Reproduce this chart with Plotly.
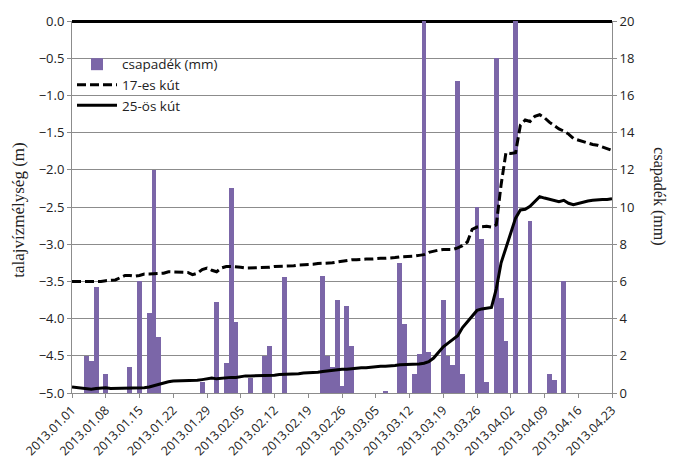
import plotly.graph_objects as go
import pandas as pd

# --- data ---
bar_dates = ["2013-01-04","2013-01-05","2013-01-06","2013-01-08","2013-01-13","2013-01-15","2013-01-17",
             "2013-01-18","2013-01-19","2013-01-28","2013-01-31","2013-02-02","2013-02-03","2013-02-04",
             "2013-02-07","2013-02-10","2013-02-11","2013-02-14","2013-02-22","2013-02-23","2013-02-24",
             "2013-02-25","2013-02-26","2013-02-27","2013-02-28","2013-03-07","2013-03-10","2013-03-11",
             "2013-03-13","2013-03-14","2013-03-15","2013-03-16","2013-03-19","2013-03-20","2013-03-21",
             "2013-03-22","2013-03-23","2013-03-26","2013-03-27","2013-03-28","2013-03-30","2013-03-31",
             "2013-04-01","2013-04-03","2013-04-06","2013-04-10","2013-04-11","2013-04-13"]
csapadek = [2.0, 1.7, 5.7, 1.0, 1.4, 6.0, 4.3, 12.0, 3.0, 0.6,
            4.9, 1.6, 11.0, 3.8, 0.8, 2.0, 2.55, 6.25,
            6.3, 2.0, 1.4, 5.0, 0.4, 4.7, 2.55,
            0.1, 7.0, 3.7, 1.0, 2.1, 20.0, 2.2,
            5.0, 2.0, 1.5, 16.8, 1.0,
            10.0, 8.3, 0.6, 18.0, 5.1,
            2.8, 20.0, 9.25, 1.0, 0.7, 6.0]

line_dates = pd.date_range("2013-01-01", "2013-04-23", freq="D")
kut17 = [-3.50,-3.50,-3.51,-3.51,-3.50,-3.50,-3.50,-3.49,-3.49,-3.48,
         -3.45,-3.42,-3.42,-3.43,-3.42,-3.40,-3.40,-3.40,-3.40,-3.39,
         -3.37,-3.37,-3.37,-3.38,-3.38,-3.41,-3.39,-3.34,-3.32,-3.35,
         -3.37,-3.32,-3.30,-3.30,-3.30,-3.31,-3.32,-3.32,-3.32,-3.32,
         -3.31,-3.31,-3.30,-3.30,-3.30,-3.29,-3.29,-3.28,-3.28,-3.27,
         -3.27,-3.26,-3.26,-3.25,-3.25,-3.24,-3.23,-3.22,-3.21,-3.21,
         -3.20,-3.20,-3.20,-3.19,-3.19,-3.19,-3.18,-3.18,-3.17,-3.17,
         -3.17,-3.16,-3.15,-3.14,-3.11,-3.09,-3.08,-3.07,-3.07,-3.07,
         -3.05,-3.02,-2.97,-2.80,-2.77,-2.76,-2.76,-2.77,-2.74,-2.20,
         -1.77,-1.78,-1.77,-1.40,-1.33,-1.35,-1.28,-1.26,-1.30,-1.36,
         -1.41,-1.45,-1.48,-1.52,-1.58,-1.60,-1.63,-1.65,-1.66,-1.67,
         -1.69,-1.71,-1.74]
kut25 = [-4.92,-4.93,-4.94,-4.94,-4.95,-4.94,-4.93,-4.93,-4.94,-4.94,
         -4.93,-4.93,-4.94,-4.94,-4.94,-4.93,-4.92,-4.90,-4.88,-4.86,
         -4.85,-4.84,-4.84,-4.84,-4.83,-4.83,-4.83,-4.82,-4.81,-4.80,
         -4.81,-4.80,-4.80,-4.79,-4.79,-4.78,-4.77,-4.77,-4.77,-4.76,
         -4.76,-4.76,-4.76,-4.75,-4.75,-4.75,-4.74,-4.74,-4.73,-4.73,
         -4.72,-4.72,-4.71,-4.70,-4.70,-4.69,-4.68,-4.68,-4.67,-4.67,
         -4.66,-4.66,-4.65,-4.65,-4.64,-4.64,-4.63,-4.63,-4.62,-4.62,
         -4.62,-4.61,-4.61,-4.60,-4.58,-4.53,-4.46,-4.38,-4.33,-4.28,
         -4.23,-4.12,-4.04,-3.96,-3.89,-3.87,-3.86,-3.85,-3.60,-3.25,
         -3.05,-2.85,-2.65,-2.54,-2.53,-2.49,-2.43,-2.36,-2.38,-2.40,
         -2.42,-2.43,-2.41,-2.45,-2.47,-2.45,-2.43,-2.42,-2.41,-2.40,
         -2.40,-2.40,-2.39]

left_ticks = [-5.0, -4.5, -4.0, -3.5, -3.0, -2.5, -2.0, -1.5, -1.0, -0.5, 0.0]
right_ticks = [0, 2, 4, 6, 8, 10, 12, 14, 16, 18, 20]

GRID = "#8c8c8c"
SANS = "Open Sans, Liberation Sans, sans-serif"
SERIF = "Liberation Serif, DejaVu Serif, serif"
TICKFONT = dict(family=SANS, size=12.5, color="#222")

fig = go.Figure()
fig.add_trace(go.Bar(x=bar_dates, y=csapadek, name="csapadék (mm)", marker=dict(color="#7b66a8", line_width=0),
                     yaxis="y"))
fig.add_trace(go.Scatter(x=line_dates, y=kut17, name="17-es kút", mode="lines",
                         line=dict(color="black", width=3, dash="9px,4px"), yaxis="y2"))
fig.add_trace(go.Scatter(x=line_dates, y=kut25, name="25-ös kút", mode="lines",
                         line=dict(color="black", width=3), yaxis="y2"))

# page body has an 8px margin, so the figure is 8px smaller and margins shifted
fig.update_layout(
    width=667, height=455,
    margin=dict(l=64, r=63, t=13, b=70, autoexpand=False),
    paper_bgcolor="white", plot_bgcolor="white",
    bargap=0,
    showlegend=True,
    legend=dict(x=0.0, y=0.925, xanchor="left", yanchor="top", bgcolor="rgba(0,0,0,0)",
                font=dict(family=SANS, size=13.5, color="#222"),
                tracegroupgap=0, itemwidth=40),
    xaxis=dict(type="date", range=["2013-01-01", "2013-04-23"], tick0="2013-01-01", dtick=7 * 86400000,
               tickformat="%Y.%m.%d", tickangle=-45, tickfont=TICKFONT, automargin=False,
               showline=True, linecolor=GRID, linewidth=1, ticks="outside", ticklen=4, tickcolor=GRID,
               showgrid=False, zeroline=False),
    yaxis=dict(side="right", range=[0, 20], tickvals=right_ticks, tickfont=dict(family=SANS, size=13, color="#222"),
               automargin=False,
               showline=True, linecolor=GRID, linewidth=1, ticks="outside", ticklen=4, tickcolor=GRID,
               showgrid=True, gridcolor=GRID, gridwidth=1, zeroline=False),
    yaxis2=dict(side="left", overlaying="y", range=[-5, 0], tickvals=left_ticks, tickformat=".1f",
                tickfont=dict(family=SANS, size=13, color="#222"), automargin=False,
                showline=True, linecolor=GRID, linewidth=1, ticks="outside", ticklen=4, tickcolor=GRID,
                showgrid=False, zeroline=True, zerolinecolor="black", zerolinewidth=2.5),
)
fig.add_annotation(text="talajvízmélység (m)", xref="paper", yref="paper", x=-0.098, y=0.49, textangle=-90,
                   showarrow=False, xanchor="center", yanchor="middle",
                   font=dict(family=SERIF, size=17, color="#222"))
fig.add_annotation(text="csapadék (mm)", xref="paper", yref="paper", x=1.088, y=0.53, textangle=90,
                   showarrow=False, xanchor="center", yanchor="middle",
                   font=dict(family=SERIF, size=16, color="#222"))

fig.write_html("out.html")
